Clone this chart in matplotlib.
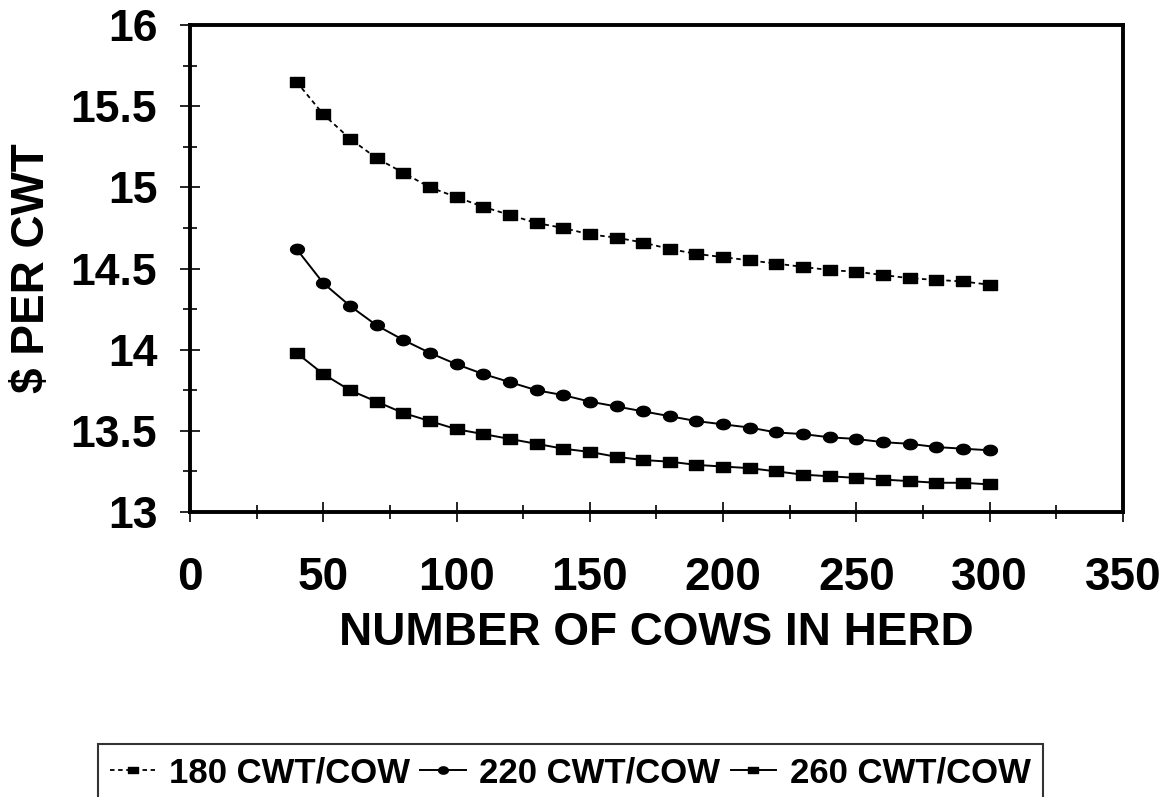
import matplotlib
matplotlib.use("Agg")
import matplotlib.pyplot as plt
import numpy as np
from matplotlib.path import Path
from matplotlib.ticker import MultipleLocator, FuncFormatter

plt.rcParams['font.family'] = ['Liberation Sans', 'DejaVu Sans']
plt.rcParams['font.weight'] = 'bold'

# numero de vacas no rebanho
cows = [40, 50, 60, 70, 80, 90, 100, 110, 120, 130, 140, 150, 160, 170,
        180, 190, 200, 210, 220, 230, 240, 250, 260, 270, 280, 290, 300]

cwt_180 = [15.65, 15.45, 15.30, 15.18, 15.09, 15.00, 14.94, 14.88, 14.83,
           14.78, 14.75, 14.71, 14.69, 14.66, 14.62, 14.59, 14.57, 14.55,
           14.53, 14.51, 14.49, 14.48, 14.46, 14.44, 14.43, 14.42, 14.40]
cwt_220 = [14.62, 14.41, 14.27, 14.15, 14.06, 13.98, 13.91, 13.85, 13.80,
           13.75, 13.72, 13.68, 13.65, 13.62, 13.59, 13.56, 13.54, 13.52,
           13.49, 13.48, 13.46, 13.45, 13.43, 13.42, 13.40, 13.39, 13.38]
cwt_260 = [13.98, 13.85, 13.75, 13.68, 13.61, 13.56, 13.51, 13.48, 13.45,
           13.42, 13.39, 13.37, 13.34, 13.32, 13.31, 13.29, 13.28, 13.27,
           13.25, 13.23, 13.22, 13.21, 13.20, 13.19, 13.18, 13.18, 13.17]

labels = ['180 CWT/COW', '220 CWT/COW', '260 CWT/COW']

# marcadores um pouco achatados, como no original
rect = Path([(-1, -0.7), (1, -0.7), (1, 0.7), (-1, 0.7), (-1, -0.7)],
            [Path.MOVETO, Path.LINETO, Path.LINETO, Path.LINETO, Path.CLOSEPOLY])
ang = np.linspace(0, 2 * np.pi, 25)
ellipse = Path(np.column_stack([np.cos(ang), 0.75 * np.sin(ang)]))

fig = plt.figure(figsize=(11.64, 7.97), dpi=100)
ax = fig.add_axes([0.1632, 0.3576, 0.8016, 0.611])

ax.plot(cows, cwt_180, color='black', lw=1.3, ls=(0, (2.5, 2)), marker=rect,
        markersize=10, label=labels[0])
ax.plot(cows, cwt_220, color='black', lw=1.4, marker=ellipse,
        markersize=10, label=labels[1])
ax.plot(cows, cwt_260, color='black', lw=1.4, marker=rect,
        markersize=10, label=labels[2])

ax.set_xlim(0, 350)
ax.set_ylim(13, 16)
ax.xaxis.set_major_locator(MultipleLocator(50))
ax.xaxis.set_minor_locator(MultipleLocator(25))
ax.yaxis.set_major_locator(MultipleLocator(0.5))
ax.yaxis.set_minor_locator(MultipleLocator(0.25))
ax.yaxis.set_major_formatter(FuncFormatter(lambda v, p: '%g' % v))

for s in ax.spines.values():
    s.set_linewidth(2.8)

ax.tick_params(which='major', direction='inout', length=15, width=1.2)
ax.tick_params(axis='x', which='major', pad=24, labelsize=33)
ax.tick_params(axis='y', which='major', pad=16, labelsize=32)
ax.tick_params(which='minor', direction='inout', length=10, width=1.2)

ax.set_xlabel('NUMBER OF COWS IN HERD', fontsize=33, fontweight='bold', labelpad=8)
ax.set_ylabel('$ PER CWT', fontsize=33, fontweight='bold', labelpad=12)

leg = fig.legend(loc='lower center', bbox_to_anchor=(0.49, -0.006), ncol=3,
                 fontsize=25, frameon=True, fancybox=False, edgecolor='black',
                 handlelength=1.3, handletextpad=0.4, columnspacing=0.3,
                 borderpad=0.35, borderaxespad=0, markerscale=0.7)
leg.get_frame().set_linewidth(1.5)
for t in leg.get_texts():
    t.set_fontweight('bold')

fig.savefig('out.png', dpi=100)
